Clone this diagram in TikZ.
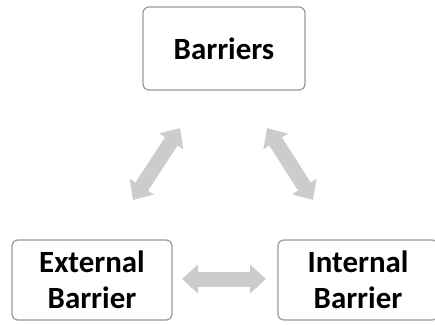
\documentclass[tikz,border=0pt]{standalone}
\usepackage{fontspec}
\setmainfont{Carlito}
\usetikzlibrary{arrows.meta}

\tikzset{
  box/.style={draw=black!40, line width=1.2bp, rounded corners=6bp, fill=white,
    minimum width=160bp, minimum height=80bp, align=center,
    font=\fontsize{31}{36}\selectfont\bfseries},
  twoway/.style={draw=black!20, line width=15bp,
    {Triangle[width=28bp,length=16bp]}-{Triangle[width=28bp,length=16bp]}}
}

\begin{document}
\begin{tikzpicture}[x=1bp, y=-1bp]
  \useasboundingbox (0,0) rectangle (435,324);
  \path node (barriers) at (224,48.5) [box, minimum width=162bp, minimum height=83bp] {Barriers}
        node (external) at (92,280) [box] {External\\Barrier}
        node (internal) at (358,280) [box] {Internal\\Barrier};
  \coordinate (ltop) at (180,128);
  \coordinate (lbot) at (133,200);
  \coordinate (rtop) at (267,128);
  \coordinate (rbot) at (313,200);
  \coordinate (hleft) at (182,279);
  \coordinate (hright) at (266,279);
  \draw[twoway] (ltop) -- (lbot);
  \draw[twoway] (rtop) -- (rbot);
  \draw[twoway] (hleft) -- (hright);
\end{tikzpicture}
\end{document}
